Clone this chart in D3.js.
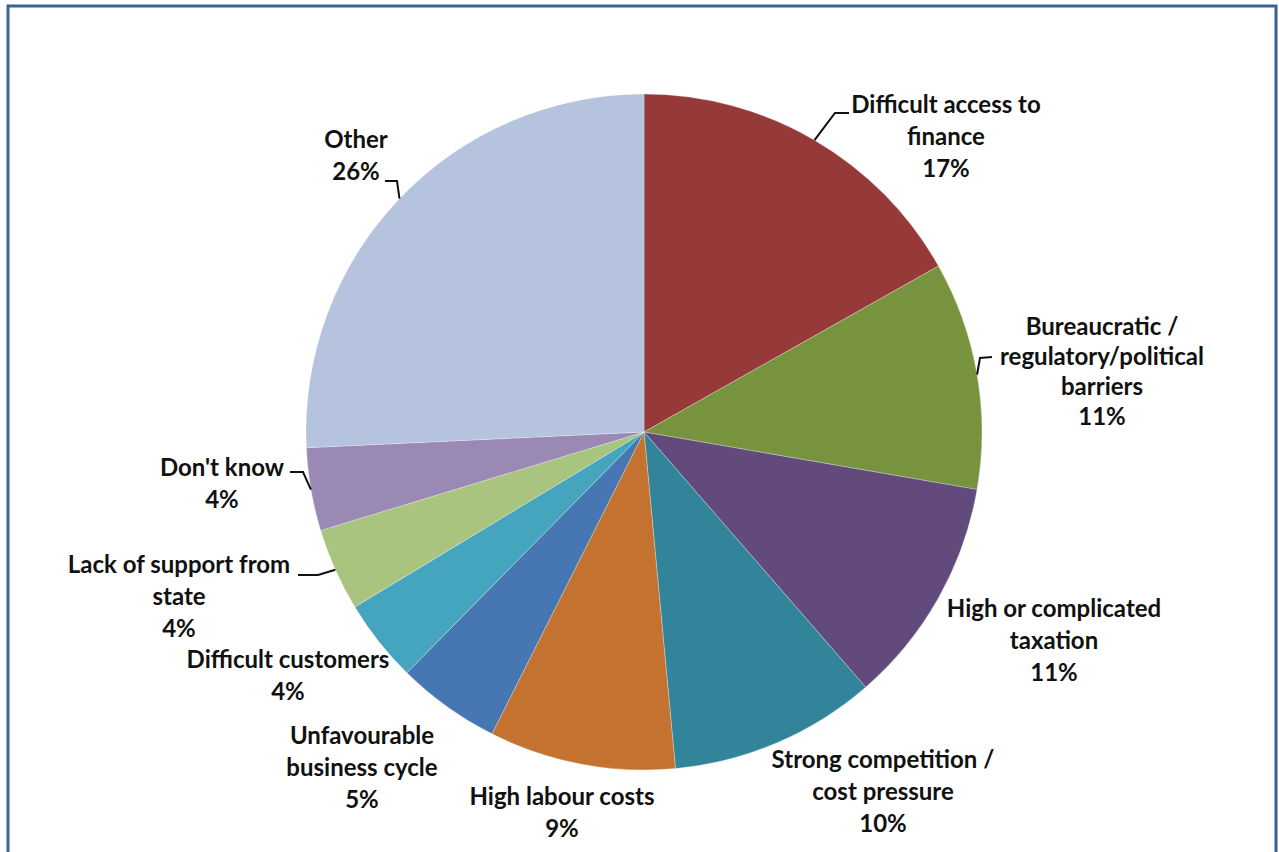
<!DOCTYPE html>
<html>
<head>
<meta charset="utf-8">
<script src="https://cdn.jsdelivr.net/npm/d3@7"></script>
<style>
  html, body { margin: 0; padding: 0; background: #fff; }
  svg { display: block; }
  .lbl { font-family: Lato, "Open Sans", sans-serif; font-weight: 700; fill: #111; }
</style>
</head>
<body>
<svg id="chart" width="1279" height="852"></svg>
<script>
// Main obstacles reported by respondents (share of answers, %)
const categories = [
  "Difficult access to\nfinance",
  "Bureaucratic /\nregulatory/political\nbarriers",
  "High or complicated\ntaxation",
  "Strong competition /\ncost pressure",
  "High labour costs",
  "Unfavourable\nbusiness cycle",
  "Difficult customers",
  "Lack of support from\nstate",
  "Don't know",
  "Other"
];
const values = [17, 11, 11, 10, 9, 5, 4, 4, 4, 26];
const colors = [
  "#953a38", "#77933e", "#624a7c", "#32849a", "#c3732f",
  "#4677b3", "#46a5be", "#a9c47f", "#9a89b5", "#b5c3de"
];

// Label placement: text centre x, first baseline y, line step, optional leader elbow
const labelLayout = [
  { x: 946,  y: 113, step: 32, leader: [[835, 113], [849, 113]] },
  { x: 1102, y: 335, step: 30, leader: [[980, 358], [992, 357]] },
  { x: 1054, y: 617, step: 32 },
  { x: 883,  y: 768, step: 32 },
  { x: 562,  y: 805, step: 32 },
  { x: 362,  y: 744, step: 32 },
  { x: 288,  y: 668, step: 32 },
  { x: 179,  y: 573, step: 32, leader: [[318, 575], [298, 575]] },
  { x: 222,  y: 476, step: 32, leader: [[303, 472], [290, 472]] },
  { x: 356,  y: 148, step: 32, leader: [[397, 181], [385, 181]] }
];

const svg = d3.select("#chart");
const H = 852;
const cx = 644, cy = 432, R = 338;

// Outer frame
svg.append("rect")
  .attr("x", 8).attr("y", 6)
  .attr("width", 1268).attr("height", H + 20)
  .attr("fill", "none")
  .attr("stroke", "#3a6296")
  .attr("stroke-width", 3);

const data = values.map((v, i) => ({ name: categories[i], value: v, i }));

const pie = d3.pie().value(d => d.value).sort(null).startAngle(0).endAngle(2 * Math.PI);
const arcs = pie(data);
const arc = d3.arc().innerRadius(0).outerRadius(R);

const g = svg.append("g").attr("transform", `translate(${cx},${cy})`);
g.selectAll("path.slice")
  .data(arcs)
  .join("path")
  .attr("class", "slice")
  .attr("d", arc)
  .attr("fill", d => colors[d.data.i])
  .attr("stroke", "#ffffff")
  .attr("stroke-opacity", 0.35)
  .attr("stroke-width", 0.8);

// Leader lines from slice edge (mid angle) to label
const leaderLine = d3.line();
arcs.forEach(a => {
  const lay = labelLayout[a.data.i];
  if (!lay.leader) return;
  const mid = (a.startAngle + a.endAngle) / 2;
  const edge = [cx + R * Math.sin(mid), cy - R * Math.cos(mid)];
  svg.append("path")
    .attr("d", leaderLine([edge, ...lay.leader]))
    .attr("fill", "none")
    .attr("stroke", "#111")
    .attr("stroke-width", 2);
});

// Category + percentage labels
arcs.forEach(a => {
  const lay = labelLayout[a.data.i];
  const lines = a.data.name.split("\n").concat([a.data.value + "%"]);
  const t = svg.append("text")
    .attr("class", "lbl")
    .attr("text-anchor", "middle")
    .attr("font-size", 24);
  lines.forEach((ln, k) => {
    t.append("tspan")
      .attr("x", lay.x)
      .attr("y", lay.y + k * lay.step)
      .text(ln);
  });
});
</script>
</body>
</html>
